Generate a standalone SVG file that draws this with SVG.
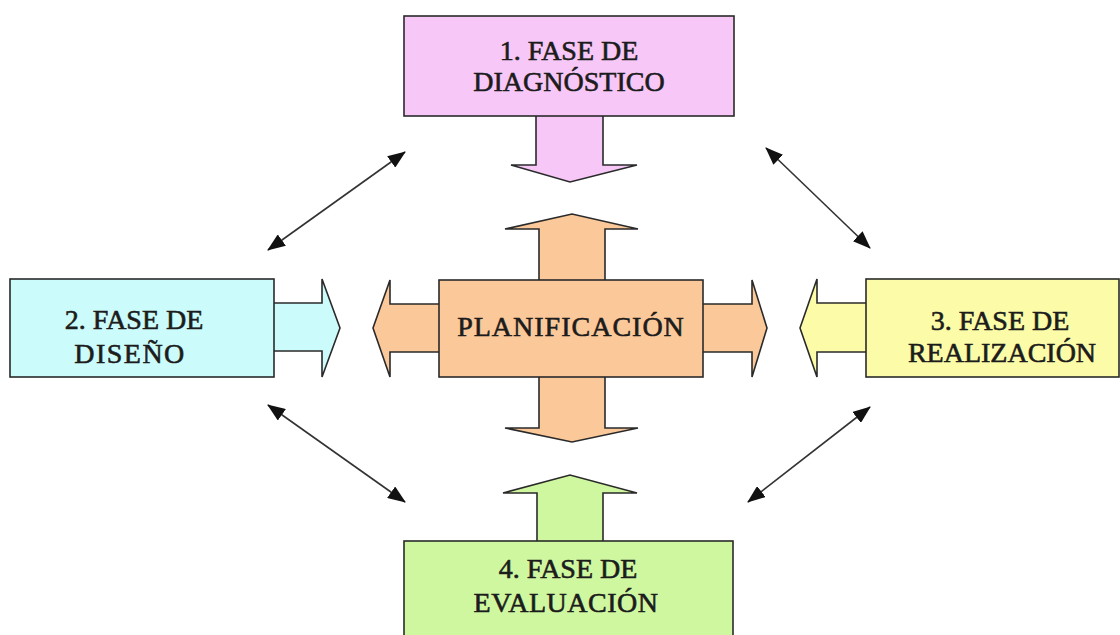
<svg xmlns="http://www.w3.org/2000/svg" width="1120" height="635" viewBox="0 0 1120 635">
<style>
.box{stroke:#2a2a2a;stroke-width:1.6}
.arr{stroke:#2a2a2a;stroke-width:1.6;stroke-linejoin:miter}
.t{font-size:28px;fill:#1c1c1c;stroke:#1c1c1c;stroke-width:0.6;text-anchor:middle}
.conn{stroke:#333;stroke-width:1.6;fill:none;marker-start:url(#ah);marker-end:url(#ah)}
</style>
<defs>
<marker id="ah" viewBox="0 0 18 14" refX="17" refY="7" markerWidth="18" markerHeight="14" markerUnits="userSpaceOnUse" orient="auto-start-reverse">
<path d="M0,0 L18,7 L0,14 z" fill="#111"/>
</marker>
</defs>
<rect width="1120" height="635" fill="#fff"/>
<g id="connectors">
<line class="conn" x1="268" y1="250" x2="405" y2="152"/>
<line class="conn" x1="766" y1="148" x2="870" y2="248"/>
<line class="conn" x1="268" y1="405" x2="405" y2="502"/>
<line class="conn" x1="870" y1="407" x2="748" y2="502"/>
</g>
<g id="diagnostico" font-family="Liberation Serif, serif">
<path class="arr" fill="#F7C8F7" d="M536,115 L536,165 L511,165 L570,182 L637,165 L603,165 L603,115"/>
<rect class="box" x="404" y="16" width="330" height="100" fill="#F7C8F7"/>
<text class="t" x="569" y="60">1. FASE DE</text>
<text class="t" x="569" y="91">DIAGNÓSTICO</text>
</g>
<g id="diseno" font-family="Liberation Serif, serif">
<path class="arr" fill="#CCFBFB" d="M273,303 L322,303 L322,279 L340,328 L322,377 L322,351 L273,351"/>
<rect class="box" x="10" y="279" width="264" height="98" fill="#CCFBFB"/>
<text class="t" x="134" y="329">2. FASE DE</text>
<text class="t" x="130" y="363" letter-spacing="1.5">DISEÑO</text>
</g>
<g id="realizacion" font-family="Liberation Serif, serif">
<path class="arr" fill="#FCFCA8" d="M867,303 L817,303 L817,279 L800,328 L817,377 L817,352 L867,352"/>
<rect class="box" x="866" y="279" width="253" height="98" fill="#FCFCA8"/>
<text class="t" x="1000" y="330">3. FASE DE</text>
<text class="t" x="1002" y="362">REALIZACIÓN</text>
</g>
<g id="evaluacion" font-family="Liberation Serif, serif">
<path class="arr" fill="#CFF7A0" d="M537,542 L537,493 L503,493 L570,475 L637,493 L603,493 L603,542"/>
<rect class="box" x="404" y="541" width="329" height="100" fill="#CFF7A0"/>
<text class="t" x="568" y="578">4. FASE DE</text>
<text class="t" x="566" y="612" letter-spacing="0.5">EVALUACIÓN</text>
</g>
<g id="planificacion" font-family="Liberation Serif, serif">
<path class="arr" fill="#FBC89A" d="M539,281 L539,229 L505,229 L572,214 L638,229 L605,229 L605,281"/>
<path class="arr" fill="#FBC89A" d="M539,376 L539,428 L505,428 L572,442 L638,428 L605,428 L605,376"/>
<path class="arr" fill="#FBC89A" d="M440,304 L390,304 L390,280 L373,328 L390,377 L390,352 L440,352"/>
<path class="arr" fill="#FBC89A" d="M702,304 L752,304 L752,280 L767,328 L752,377 L752,352 L702,352"/>
<rect class="box" x="439" y="280" width="264" height="97" fill="#FBC89A"/>
<text class="t" x="571" y="336" letter-spacing="1">PLANIFICACIÓN</text>
</g>
</svg>
